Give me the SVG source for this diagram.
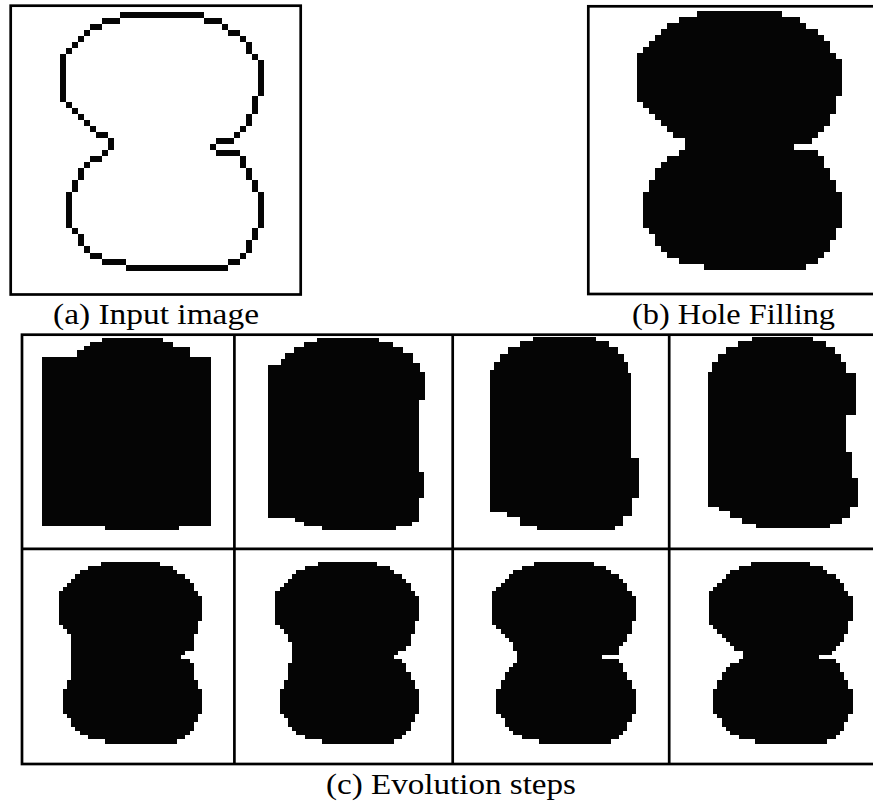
<svg xmlns="http://www.w3.org/2000/svg" xmlns:xlink="http://www.w3.org/1999/xlink" width="873" height="801" viewBox="0 0 873 801">
<style>
.frame{fill:none;stroke:#000;stroke-width:2.7}
.blob{fill:#050505;shape-rendering:crispEdges}
.lbl{font-family:"Liberation Serif","Times New Roman",serif;font-size:30px;fill:#000}
</style>
<defs>
<path id="filled" d="M10 0H24V1H27V2H28V3H30V4H31V5H32V7H33V8H34V14H33V17H32V19H31V20H30V21H29V22H26V23H30V24H31V26H32V28H33V30H34V36H33V38H32V40H31V41H30V42H28V43H11V42H7V41H5V40H4V39H3V37H2V36H1V30H2V28H3V26H4V25H5V24H7V23H8V21H6V20H5V19H4V18H3V17H2V16H1V15H0V7H1V6H2V5H3V4H4V3H5V2H7V1H10Z"/>
</defs>
<rect width="873" height="801" fill="#fff"/>

<g id="panel-a">
<rect class="frame" x="10.7" y="5.7" width="290" height="288.8"/>
<path class="blob" transform="translate(59.5 11.7) scale(6.02)" d="M10 0h14v1h-14z M7 1h3v1h-3z M24 1h3v1h-3z M5 2h2v1h-2z M27 2h1v1h-1z M4 3h1v1h-1z M28 3h2v1h-2z M3 4h1v1h-1z M30 4h1v1h-1z M2 5h1v1h-1z M31 5h1v2h-1z M1 6h1v1h-1z M0 7h1v8h-1z M32 7h1v1h-1z M33 8h1v6h-1z M32 14h1v3h-1z M1 15h1v1h-1z M2 16h1v1h-1z M3 17h1v1h-1z M31 17h1v2h-1z M4 18h1v1h-1z M5 19h1v1h-1z M30 19h1v1h-1z M6 20h2v1h-2z M29 20h1v1h-1z M8 21h1v2h-1z M26 21h3v1h-3z M25 22h1v1h-1z M7 23h1v1h-1z M26 23h4v1h-4z M5 24h2v1h-2z M30 24h1v2h-1z M4 25h1v1h-1z M3 26h1v2h-1z M31 26h1v2h-1z M2 28h1v2h-1z M32 28h1v2h-1z M1 30h1v6h-1z M33 30h1v6h-1z M2 36h1v1h-1z M32 36h1v2h-1z M3 37h1v2h-1z M31 38h1v2h-1z M4 39h1v1h-1z M5 40h2v1h-2z M30 40h1v1h-1z M7 41h4v1h-4z M28 41h2v1h-2z M11 42h17v1h-17z"/>
<text class="lbl" x="53" y="324" textLength="206" lengthAdjust="spacingAndGlyphs">(a) Input image</text>
</g>

<g id="panel-b">
<rect class="frame" x="588.3" y="6.3" width="300" height="287.7"/>
<use xlink:href="#filled" class="blob" transform="translate(637.3 11.3) scale(6.02)"/>
<text class="lbl" x="632" y="324" textLength="203" lengthAdjust="spacingAndGlyphs">(b) Hole Filling</text>
</g>

<g id="panel-c">
<rect class="frame" x="22" y="334.7" width="870" height="429.3"/>
<line class="frame" x1="22" y1="548.8" x2="873" y2="548.8" stroke-width="3"/>
<line class="frame" x1="234.4" y1="334.7" x2="234.4" y2="764" stroke-width="3"/>
<line class="frame" x1="452.7" y1="334.7" x2="452.7" y2="764" stroke-width="3"/>
<line class="frame" x1="669.2" y1="334.7" x2="669.2" y2="764" stroke-width="3"/>

<g id="step1"><path class="blob" d="M101.7 337.7H163.3V341.7H173.3V346.7H190V356.7H211V526H179.3V530H104.7V526H41.7V356.7H77.3V350H84V345.5H90V341.7H101.7Z"/></g>
<g id="step2"><path class="blob" d="M317.3 338.3H379.3V341.7H393.3V346.7H403.3V353.3H412.7V363.3H420V371.7H425V400H419.3V471.7H424.3V498H418.7V521.7H412V526H396.4V530H321.8V526H303.5V521.7H295V518.3H268.4V365H280.7V359.3H285V353.3H294V346.7H304V341.7H317.3Z"/></g>
<g id="step3"><path class="blob" d="M533.4 337.3H595.8V341H609V347H618V354H624V362H628V373H630.8V458H639V498H632V516H623V526H615.3V530H537.3V526H520V516.7H507V511.7H490V370H494V362H500V354H508V347H520V341H533.4Z"/></g>
<g id="step4"><path class="blob" d="M751.7 337H813V341H826V347H835V354H841V362H846V373H855.8V415H846.3V452H852V478H857.5V507H850V518H842V524H829.6V528.3H756V524H742V518H730V511H719V507H708.2V372H712V362H718V354H726V347H738V341H751.7Z"/></g>

<g id="step5"><path class="blob" transform="translate(58.5 561.7) scale(4.23)" d="M10 0H24V1H27V2H28V3H30V4H31V5H32V7H33V8H34V14H33V17H32V21H30V22H29V23H31V24H32V28H33V30H34V36H33V38H32V40H31V41H30V42H28V43H11V42H7V41H5V40H4V39H3V37H2V36H1V30H2V28H3V17H2V16H1V15H0V7H1V6H2V5H3V4H4V3H5V2H7V1H10Z"/></g>
<g id="step6"><path class="blob" transform="translate(275.3 561.7) scale(4.23)" d="M10 0H24V1H27V2H28V3H30V4H31V5H32V7H33V8H34V14H33V17H32V20H31V21H29V22H28V23H30V24H31V26H32V28H33V30H34V36H33V38H32V40H31V41H30V42H28V43H11V42H7V41H5V40H4V39H3V37H2V36H1V30H2V28H3V24H4V19H3V17H2V16H1V15H0V7H1V6H2V5H3V4H4V3H5V2H7V1H10Z"/></g>
<g id="step7"><path class="blob" transform="translate(492.1 561.7) scale(4.23)" d="M10 0H24V1H27V2H28V3H30V4H31V5H32V7H33V8H34V14H33V17H32V19H31V20H30V22H26V23H30V24H31V26H32V28H33V30H34V36H33V38H32V40H31V41H30V42H28V43H11V42H7V41H5V40H4V39H3V37H2V36H1V30H2V28H3V26H4V25H5V24H6V21H5V19H4V18H3V17H2V16H1V15H0V7H1V6H2V5H3V4H4V3H5V2H7V1H10Z"/></g>
<g id="step8"><use xlink:href="#filled" class="blob" transform="translate(708.9 561.7) scale(4.23)"/></g>

<text class="lbl" x="326" y="794" textLength="250" lengthAdjust="spacingAndGlyphs">(c) Evolution steps</text>
</g>
</svg>
